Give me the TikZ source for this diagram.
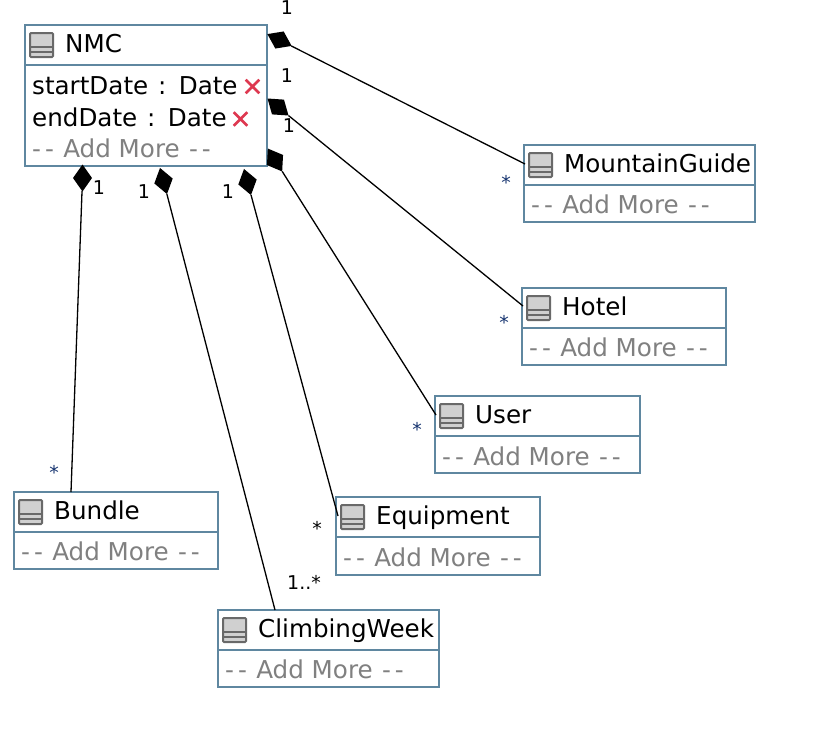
\documentclass[tikz,border=0pt]{standalone}
\usepackage{fontspec}
\setmainfont{DejaVu Sans}
\usetikzlibrary{positioning, calc, shapes.geometric, shapes.misc}
\definecolor{BoxColor}{RGB}{95,135,160}
\definecolor{IconEdge}{RGB}{105,105,105}
\definecolor{IconFill}{RGB}{208,208,208}
\definecolor{MoreColor}{RGB}{128,128,128}
\definecolor{CrossColor}{RGB}{222,56,80}
\definecolor{StarColor}{RGB}{20,50,110}
\tikzstyle{classbox} = [draw=BoxColor, line width=1.6pt, fill=white, anchor=north west, inner sep=0, outer sep=0]
\tikzstyle{divider} = [BoxColor, line width=1.6pt]
\tikzstyle{iconbox} = [draw=IconEdge, fill=IconFill, line width=2pt, rounded corners=1pt]
\tikzstyle{titletext} = [anchor=base west, inner sep=0, font=\fontsize{24.6}{29}\selectfont]
\tikzstyle{moretext} = [titletext, text=MoreColor]
\tikzstyle{compdiamond} = [diamond, fill=black, inner sep=0, outer sep=0, minimum width=27pt, minimum height=19pt]
\tikzstyle{assoc} = [black, line width=1.3pt]
\tikzstyle{mult} = [inner sep=0, font=\fontsize{19}{22}\selectfont]
\tikzstyle{crossmark} = [cross out, draw=CrossColor, line width=2.6pt, inner sep=0, minimum width=11pt, minimum height=11pt]
\newcommand{\addmore}{-\kern4pt-\kern1.5pt{} Add More \kern1.5pt-\kern4pt-}

\begin{document}
\begin{tikzpicture}[x=1pt, y=-1pt]
    \useasboundingbox (0,0) rectangle (813,734);

    % class boxes
    \foreach \id/\x/\y/\w/\h/\t in {nmc/25/25/242/141/NMC, guide/524/145/231/77/MountainGuide, hotel/522/288/204/77/Hotel, user/435/396/205/77/User, equip/336/497/204/78/Equipment, week/218/610/221/77/ClimbingWeek, bundle/14/492/204/77/Bundle} {
        \node[classbox, minimum width=\w pt, minimum height=\h pt] (\id) at (\x,\y) {};
        \draw[divider] ($(\id.north west)+(0,40)$) -- ($(\id.north east)+(0,40)$);
        \draw[iconbox] ($(\id.north west)+(5,8)$) rectangle ($(\id.north west)+(28,32)$);
        \draw[IconEdge, line width=2pt] ($(\id.north west)+(5,22)$) -- ($(\id.north west)+(28,22)$);
        \draw[IconEdge, line width=2pt] ($(\id.north west)+(5,27)$) -- ($(\id.north west)+(28,27)$);
        \node[titletext] (\id title) at ($(\id.north west)+(40,27)$) {\t};
    }

    % add more rows
    \foreach \id/\dy in {guide/68, hotel/68, user/69, equip/69, week/68, bundle/68} {
        \node[moretext] (\id more) at ($(\id.north west)+(7,\dy)$) {\addmore};
    }
    \node[moretext] (nmcmore) at (32,157) {\addmore};

    % attributes of NMC
    \node[titletext] (startattr) at (32,94) {startDate\kern2pt{} : \kern2pt{}Date};
    \node[titletext] (endattr) at (32,126) {endDate\kern2pt{} : \kern2pt{}Date};
    \node[crossmark] (startx) at (252.5,86.5) {};
    \node[crossmark] (endx) at (240.5,119) {};

    % diamonds
    \foreach \id/\x/\y/\a in {dguide/279.5/40/-26, dhotel/278/107/-39, duser/275/160/-58, dequip/247.5/182/-75, dweek/163.5/181/-75, dbundle/82.5/178/-90} {
        \node[compdiamond, rotate=\a] (\id) at (\x,\y) {};
    }

    % connector ends
    \coordinate (guideend) at (525,164);
    \coordinate (hotelend) at (523,306);
    \coordinate (userend) at (436,415);
    \coordinate (equipend) at (338,516);
    \coordinate (weekend) at (275,610);
    \coordinate (bundleend) at (71,492);

    \draw[assoc] (dguide) -- (guideend);
    \draw[assoc] (dhotel) -- (hotelend);
    \draw[assoc] (duser) -- (userend);
    \draw[assoc] (dequip) -- (equipend);
    \draw[assoc] (dweek) -- (weekend);
    \draw[assoc] (dbundle) -- (bundleend);

    % multiplicities
    \foreach \id/\x/\y in {ma/287/8, mb/287/76, mc/289/126, md/99/188, me/144/192, mf/228/192} {
        \node[mult] (\id) at (\x,\y) {1};
    }
    \foreach \id/\x/\y in {sa/506/182, sb/504/322, sc/417/429, sd/54/472} {
        \node[mult, text=StarColor] (\id) at (\x,\y) {*};
    }
    \node[mult] (se) at (317,528) {*};
    \node[mult] (sf) at (304,582) {1..*};
\end{tikzpicture}
\end{document}
